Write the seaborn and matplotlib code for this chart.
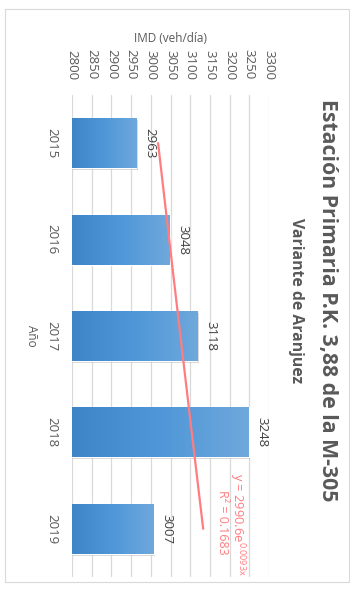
import numpy as np
import pandas as pd
import matplotlib
matplotlib.use("Agg")
import matplotlib.pyplot as plt
import matplotlib.patheffects as pe
import seaborn as sns
from matplotlib.colors import LinearSegmentedColormap
from matplotlib.patches import Rectangle

# ---- data ----
years = ["2015", "2016", "2017", "2018", "2019"]
imd = [2963, 3048, 3118, 3248, 3007]
value_ticks = [2800, 2850, 2900, 2950, 3000, 3050, 3100, 3150, 3200, 3250, 3300]
title = "Estación Primaria P.K. 3,88 de la M-305"
subtitle = "Variante de Aranjuez"
value_axis_label = "IMD (veh/día)"
cat_axis_label = "Año"

sns.set_theme(style="white")
plt.rcParams['font.family'] = ['Open Sans', 'DejaVu Sans']
plt.rcParams['mathtext.fontset'] = 'custom'
plt.rcParams['mathtext.rm'] = 'Open Sans'
plt.rcParams['mathtext.it'] = 'Open Sans:italic'

grey = '#595959'
trend_col = '#FF7C80'

fig = plt.figure(figsize=(3.5, 5.9), dpi=100)
fig.patch.set_facecolor('white')
ax = fig.add_axes([72/350, 1-577/590, (269-72)/350, (577-95)/590])

df = pd.DataFrame({"Año": years, "IMD": imd})
sns.barplot(data=df, x="IMD", y="Año", orient="h", color="#4F94D4",
            width=0.52, ax=ax, zorder=2)

ax.set_xlim(value_ticks[0], value_ticks[-1])
ylim = ax.get_ylim()

# gradient fill + shadow on the bars
cmap = LinearSegmentedColormap.from_list("g", ["#3D85C6", "#4F97D8", "#6FA8DC"])
grad = np.linspace(0, 1, 256).reshape(1, -1)
for patch in ax.patches:
    patch.set_path_effects([pe.SimplePatchShadow(offset=(1.2, -1.2), alpha=0.35,
                                                 shadow_rgbFace='#808080'),
                            pe.Normal()])
    x1 = patch.get_x() + patch.get_width()
    y0 = patch.get_y()
    y1 = y0 + patch.get_height()
    im = ax.imshow(grad, cmap=cmap, extent=[value_ticks[0], x1, y1, y0],
                   aspect='auto', zorder=2.5, interpolation='bicubic')
    im.set_clip_path(patch)
ax.set_xlim(value_ticks[0], value_ticks[-1])
ax.set_ylim(ylim)

# exponential trend line fitted from the data
xi = np.arange(1, len(imd) + 1)
b, lna = np.polyfit(xi, np.log(imd), 1)
a = np.exp(lna)
trend = a * np.exp(b * xi)
pred = lna + b * xi
ly = np.log(imd)
r2 = 1 - np.sum((ly - pred) ** 2) / np.sum((ly - ly.mean()) ** 2)
ax.plot(trend, np.arange(len(imd)), color=trend_col, lw=1.6, zorder=4)

ax.text(3219, 3.42, f"y = {a:.1f}e$^{{\\mathrm{{{b:.4f}x}}}}$", rotation=-90,
        ha='center', va='top', color=trend_col, fontsize=9.3)
ax.text(3181, 3.60, f"R² = {r2:.4f}", rotation=-90,
        ha='center', va='top', color=trend_col, fontsize=9)

# value labels
ax.bar_label(ax.containers[0], padding=5, rotation=-90, fontsize=9.5, color='#404040')

# axes styling
ax.set_xticks(value_ticks)
ax.xaxis.tick_top()
ax.xaxis.set_label_position('top')
ax.grid(axis='x', color='#D9D9D9', lw=0.9)
ax.grid(axis='y', visible=False)
ax.set_axisbelow(True)
for s in ax.spines.values():
    s.set_visible(False)
ax.tick_params(axis='x', length=0, pad=11, labelrotation=-90, labelsize=9.5,
               labelcolor=grey)
ax.tick_params(axis='y', length=0, pad=10, labelrotation=-90, labelsize=9.5,
               labelcolor=grey)
for lab in ax.get_yticklabels():
    lab.set_va('center')

ax.set_xlabel(value_axis_label, fontsize=8.5, color=grey)
ax.xaxis.set_label_coords(0.5, 1 + (95-38)/482)
ax.xaxis.label.set_va('center')
ax.set_ylabel(cat_axis_label, fontsize=8.5, color=grey, rotation=-90)
ax.yaxis.set_label_coords((31-72)/197, 0.5)
ax.yaxis.label.set_va('center')
ax.yaxis.label.set_ha('center')

# titles
fig.text(327/350, 1-300/590, title, rotation=-90, ha='center', va='center',
         fontsize=15.3, weight='bold', color=grey)
fig.text(296/350, 1-301/590, subtitle, rotation=-90, ha='center', va='center',
         fontsize=11.3, weight='bold', color=grey)

# chart frame
fig.add_artist(Rectangle((5/350, 1-582/590), (349-5)/350, (582-9)/590,
                         transform=fig.transFigure, fill=False,
                         ec='#D9D9D9', lw=0.8))

fig.savefig('out.png', dpi=100, facecolor='white')
